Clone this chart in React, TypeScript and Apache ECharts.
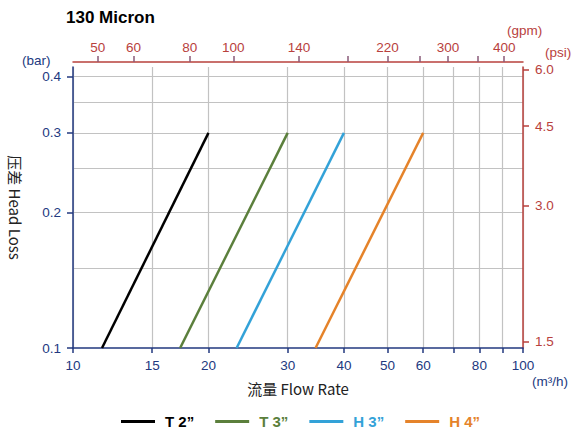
import React, { useEffect, useRef } from "react";
import * as echarts from "echarts";

// ---- data ----
const seriesNames = ["T 2\u201d", "T 3\u201d", "H 3\u201d", "H 4\u201d"];
const seriesColors = ["#000000", "#5b7f3c", "#33a2d8", "#e5832a"];
const flowAtLow = [11.6, 17.3, 23.1, 34.6]; // m³/h at 0.1 bar
const flowAtHigh = [20, 30, 40, 60]; // m³/h at 0.3 bar
const headLossLow = 0.1; // bar
const headLossHigh = 0.3; // bar

const xTickValues = [10, 15, 20, 30, 40, 50, 60, 70, 80, 90, 100];
const xLabelValues = [10, 15, 20, 30, 40, 50, 60, 80, 100];
const gpmTickValues = [50, 60, 80, 100, 140, 180, 220, 260, 300, 350, 400];
const gpmLabelValues = [50, 60, 80, 100, 140, 220, 300, 400];
const barGridValues = [0.15, 0.2, 0.25, 0.3, 0.35, 0.4];
const barLabelValues = [0.1, 0.2, 0.3, 0.4];
const psiLabelValues = [1.5, 3.0, 4.5, 6.0];

const X_MIN = 10;
const X_MAX = 100;
const Y_MIN = 0.1;
const Y_MAX = 0.42;
const GPM_PER_M3H = 4.403;
const PSI_PER_BAR = 14.5;

const NAVY = "#22397f";
const RED = "#b8413d";
const GRID = "#c2c2c2";
const ARIAL = "'Liberation Sans', Arial, sans-serif";
const CJK = "'Noto Sans CJK SC', 'Noto Sans', sans-serif";

export default function App() {
  const ref = useRef<HTMLDivElement>(null);
  useEffect(() => {
    if (!ref.current) return;
    const chart = echarts.init(ref.current, null, { renderer: "svg" });
    const option: any = {
      animation: false,
      backgroundColor: "#ffffff",
      title: {
        text: "130 Micron",
        left: 61,
        top: 4,
        textStyle: { fontSize: 17, fontWeight: "bold", color: "#000", fontFamily: ARIAL },
      },
      grid: { left: 70, right: 50, top: 67, bottom: 80, containLabel: false },
      legend: {
        left: 116,
        top: 409,
        icon: "rect",
        itemWidth: 34,
        itemHeight: 3,
        itemGap: 21,
        data: seriesNames.map((n, i) => ({ name: n, textStyle: { color: seriesColors[i] } })),
        textStyle: { fontSize: 15, fontWeight: "bold", fontFamily: ARIAL, padding: [0, 0, 0, 5] },
      },
      xAxis: [
        {
          type: "log",
          logBase: 10,
          min: X_MIN,
          max: X_MAX,
          position: "bottom",
          name: "流量 Flow Rate",
          nameLocation: "middle",
          nameGap: 33,
          nameTextStyle: { fontSize: 15, color: "#222", fontFamily: CJK },
          axisLine: { show: true, lineStyle: { color: NAVY, width: 1.5 } },
          axisTick: { show: true, inside: false, length: 5, customValues: xTickValues, lineStyle: { color: NAVY, width: 1.5 } },
          axisLabel: {
            customValues: xLabelValues,
            margin: 10,
            color: NAVY,
            fontSize: 13.5,
            fontFamily: ARIAL,
            formatter: (v: number) => String(Math.round(v)),
          },
          splitLine: { show: true, lineStyle: { color: GRID, width: 1.2 } },
        },
        {
          type: "log",
          logBase: 10,
          min: X_MIN * GPM_PER_M3H,
          max: X_MAX * GPM_PER_M3H,
          position: "top",
          offset: 5,
          axisLine: { show: true, lineStyle: { color: RED, width: 1.5 } },
          axisTick: { show: true, inside: false, length: 6, customValues: gpmTickValues, lineStyle: { color: "#8a5a78", width: 1.5 } },
          axisLabel: {
            customValues: gpmLabelValues,
            margin: 8,
            color: RED,
            fontSize: 13.5,
            fontFamily: ARIAL,
            formatter: (v: number) => String(Math.round(v)),
          },
          splitLine: { show: false },
        },
      ],
      yAxis: [
        {
          type: "log",
          logBase: 10,
          min: Y_MIN,
          max: Y_MAX,
          position: "left",
          name: "压差 Head Loss",
          nameLocation: "middle",
          nameRotate: -90,
          nameGap: 50,
          nameTextStyle: { fontSize: 15, color: "#222", fontFamily: CJK },
          axisLine: { show: true, lineStyle: { color: NAVY, width: 1.5 } },
          axisTick: { show: true, inside: false, length: 6, customValues: barLabelValues, lineStyle: { color: NAVY, width: 1.5 } },
          axisLabel: {
            customValues: barLabelValues,
            margin: 12,
            color: NAVY,
            fontSize: 13.5,
            fontFamily: ARIAL,
            formatter: (v: number) => v.toFixed(1),
          },
          splitLine: { show: false },
        },
        {
          type: "log",
          logBase: 10,
          min: Y_MIN,
          max: Y_MAX,
          position: "left",
          axisLine: { show: false },
          axisTick: { show: false, customValues: barGridValues },
          axisLabel: { show: false },
          splitLine: { show: true, lineStyle: { color: GRID, width: 1.2 } },
        },
        {
          type: "log",
          logBase: 10,
          min: Y_MIN * PSI_PER_BAR,
          max: Y_MAX * PSI_PER_BAR,
          position: "right",
          axisLine: { show: true, lineStyle: { color: RED, width: 1.5 } },
          axisTick: { show: true, inside: false, length: 6, customValues: psiLabelValues, lineStyle: { color: RED, width: 1.5 } },
          axisLabel: {
            customValues: psiLabelValues,
            margin: 12,
            color: RED,
            fontSize: 13.5,
            fontFamily: ARIAL,
            formatter: (v: number) => v.toFixed(1),
          },
          splitLine: { show: false },
        },
      ],
      graphic: [
        { type: "text", x: 22, y: 60, style: { text: "(bar)", fill: NAVY, fontSize: 13.5, fontFamily: ARIAL, align: "left", verticalAlign: "middle" } },
        { type: "text", x: 507, y: 30, style: { text: "(gpm)", fill: RED, fontSize: 13.5, fontFamily: ARIAL, align: "left", verticalAlign: "middle" } },
        { type: "text", x: 545, y: 52, style: { text: "(psi)", fill: RED, fontSize: 13.5, fontFamily: ARIAL, align: "left", verticalAlign: "middle" } },
        { type: "text", x: 532, y: 381, style: { text: "(m³/h)", fill: NAVY, fontSize: 13.5, fontFamily: ARIAL, align: "left", verticalAlign: "middle" } },
      ],
      series: seriesNames.map((name, i) => ({
        name,
        type: "line",
        xAxisIndex: 0,
        yAxisIndex: 0,
        symbol: "none",
        color: seriesColors[i],
        lineStyle: { color: seriesColors[i], width: 2.5 },
        data: [
          [flowAtLow[i], headLossLow],
          [flowAtHigh[i], headLossHigh],
        ],
      })),
    };
    chart.setOption(option);
    return () => chart.dispose();
  }, []);
  return <div ref={ref} style={{ position: "absolute", left: 0, top: 0, width: 573, height: 428 }} />;
}
